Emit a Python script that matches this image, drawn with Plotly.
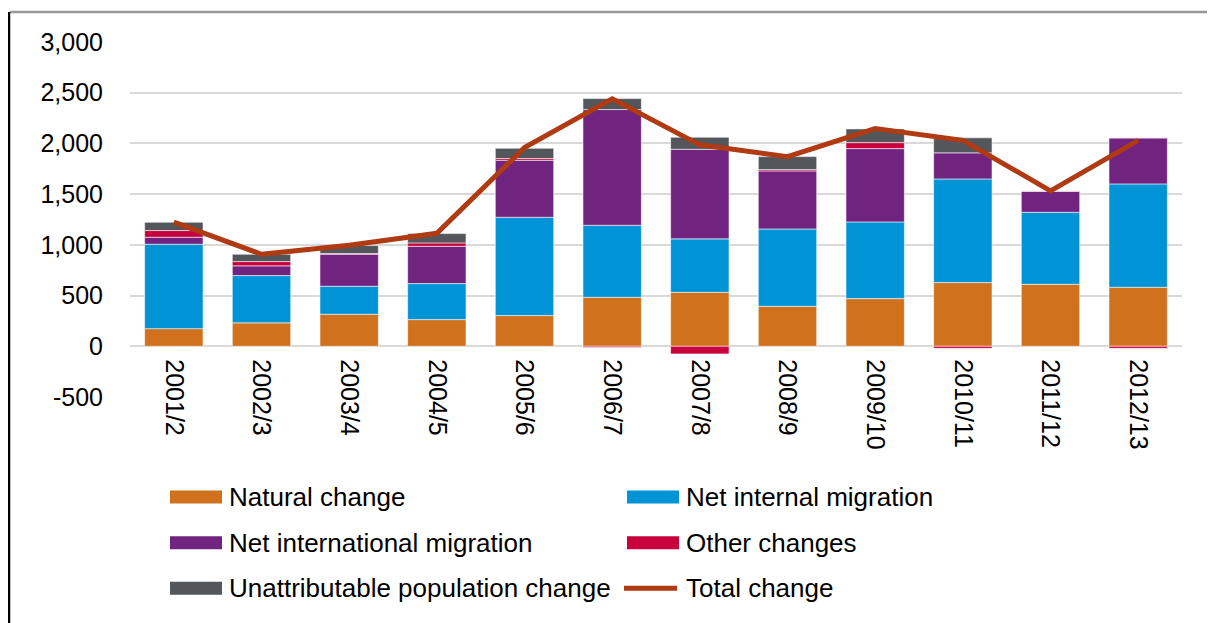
import plotly.graph_objects as go

# Components of population change by year
years = ['2001/2', '2002/3', '2003/4', '2004/5', '2005/6', '2006/7',
         '2007/8', '2008/9', '2009/10', '2010/11', '2011/12', '2012/13']
natural = [174, 231, 316, 263, 303, 483, 532, 394, 470, 628, 611, 582]
internal = [832, 466, 276, 355, 969, 710, 527, 763, 756, 1022, 710, 1019]
international = [69, 96, 315, 368, 562, 1141, 883, 572, 723, 257, 207, 454]
other = [66, 42, 8, 33, 17, -12, -75, 13, 59, -20, 5, -20]
unattributable = [82, 72, 79, 92, 101, 108, 119, 128, 135, 148, 0, 0]
total = [1225, 907, 996, 1114, 1960, 2440, 1986, 1870, 2147, 2030, 1533, 2030]

y_ticks = [-500, 0, 500, 1000, 1500, 2000, 2500, 3000]
y_labels = ['-500', '0', '500', '1,000', '1,500', '2,000', '2,500', '3,000']

series = [
    ('Natural change', natural, '#D0711E'),
    ('Net internal migration', internal, '#0093D6'),
    ('Net international migration', international, '#71247F'),
    ('Other changes', other, '#C8003C'),
    ('Unattributable population change', unattributable, '#53565A'),
]
line_colour = '#B03A12'

# the page puts the figure 8px in from the window corner, so work in
# window pixels and subtract that offset
OFF = 8
W, H = 1215, 623
plot_left, plot_right, plot_top, plot_bottom = 130, 1182, 42, 397.5
L, T = plot_left - OFF, plot_top - OFF
R, B = W - (plot_right - OFF), H - (plot_bottom - OFF)
pw, ph = W - L - R, H - T - B


def px(x):
    return (x - plot_left) / pw


def py(y):
    return (plot_bottom - y) / ph


fig = go.Figure()
for name, vals, col in series:
    fig.add_trace(go.Bar(x=years, y=vals, name=name, marker_color=col,
                         marker_line=dict(color='rgba(255,255,255,0.55)', width=1),
                         showlegend=False))
fig.add_trace(go.Scatter(x=years, y=total, name='Total change', mode='lines',
                         line=dict(color=line_colour, width=5), showlegend=False))

font = 'Liberation Sans, Arial, sans-serif'

# hand-made legend, two columns
legend_items = [(s[0], s[2], 'bar') for s in series] + [('Total change', line_colour, 'line')]
col_x = [170, 627]
row_y = [497.7, 543.5, 589]
shapes = []
annotations = []
for i, (name, col, kind) in enumerate(legend_items):
    x0 = col_x[i % 2]
    yc = row_y[i // 2]
    if kind == 'bar':
        shapes.append(dict(type='rect', xref='paper', yref='paper',
                           x0=px(x0), x1=px(x0 + 52), y0=py(yc - 6.5), y1=py(yc + 6.5),
                           fillcolor=col, line=dict(width=0)))
    else:
        shapes.append(dict(type='line', xref='paper', yref='paper',
                           x0=px(x0 - 3), x1=px(x0 + 50), y0=py(yc), y1=py(yc),
                           line=dict(color=col, width=5)))
    annotations.append(dict(text=name, xref='paper', yref='paper', x=px(x0 + 57), y=py(yc),
                            xanchor='left', yanchor='middle', showarrow=False,
                            font=dict(size=26, color='#000000', family=font)))

# outer frame pieces
shapes.append(dict(type='line', xref='paper', yref='paper', x0=px(10), x1=px(W + OFF), y0=py(12), y1=py(12),
                   line=dict(color='#999999', width=2.5)))
shapes.append(dict(type='line', xref='paper', yref='paper', x0=px(9), x1=px(9), y0=py(12), y1=py(H + OFF),
                   line=dict(color='#000000', width=2.5)))

fig.update_layout(
    width=W, height=H,
    margin=dict(l=L, r=R, t=T, b=B),
    barmode='relative', bargap=0.334,
    plot_bgcolor='white', paper_bgcolor='white',
    font=dict(family=font, size=25, color='#000000'),
    xaxis=dict(anchor='free', position=500 / 3500, tickangle=90, showline=False,
               showgrid=False, ticks='', ticklabelstandoff=12,
               tickfont=dict(size=25)),
    yaxis=dict(range=[-500, 3000], tickvals=y_ticks, ticktext=y_labels,
               showgrid=True, gridcolor='#D9D9D9', gridwidth=2,
               zeroline=False, showline=False, ticks='', ticklabelstandoff=26,
               tickfont=dict(size=25)),
    shapes=shapes, annotations=annotations,
    showlegend=False,
)

fig.write_html("out.html")
